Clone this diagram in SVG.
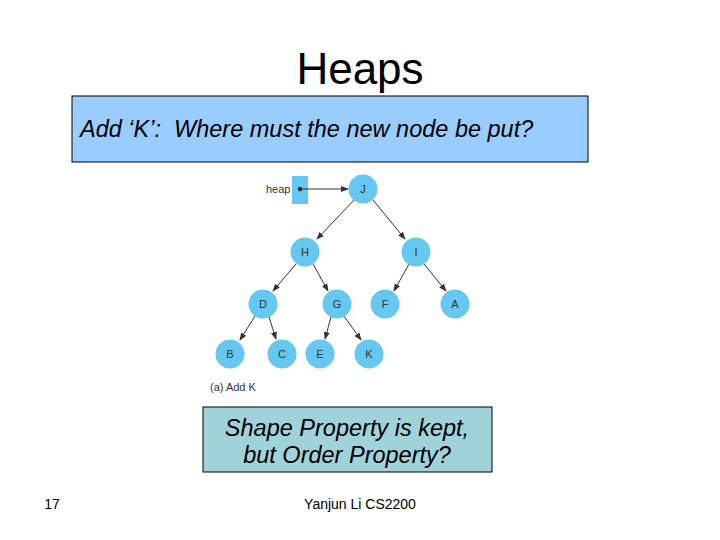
<svg xmlns="http://www.w3.org/2000/svg" width="720" height="540" viewBox="0 0 720 540">
<style>
.node circle{fill:#66c8f0;}
.node text{font-family:"Liberation Sans",Arial,sans-serif;font-size:11px;fill:#333;text-anchor:middle;}
.edge{stroke:#333;stroke-width:1;fill:none;marker-end:url(#ah);}
.box text{font-family:"Liberation Sans",Arial,sans-serif;font-size:23.5px;font-style:italic;fill:#000;white-space:pre;}
.small{font-family:"Liberation Sans",Arial,sans-serif;font-size:11px;fill:#333;}
</style>
<defs>
<marker id="ah" markerWidth="8" markerHeight="8" refX="7" refY="4" orient="auto" markerUnits="userSpaceOnUse">
<path d="M0,1 L8,4 L0,7 Z" fill="#333"/>
</marker>
</defs>
<rect width="720" height="540" fill="#fff"/>
<text x="360" y="84" font-family="Liberation Sans,Arial,sans-serif" font-size="44" text-anchor="middle">Heaps</text>
<g id="question" class="box">
<rect x="72" y="96" width="516" height="66" fill="#99ccff" stroke="#000" stroke-width="1"/>
<text x="80" y="137" xml:space="preserve">Add ‘K’:  Where must the new node be put?</text>
</g>
<g id="heapptr">
<text class="small" x="266" y="193">heap</text>
<rect x="292" y="176" width="16" height="28" fill="#66c8f0"/>
<circle cx="300" cy="189" r="2.2" fill="#222"/>
</g>
<g id="connectors">
<line class="edge" x1="300" y1="189" x2="348" y2="189"/>
<line class="edge" x1="354" y1="200" x2="317" y2="239"/>
<line class="edge" x1="373" y1="200" x2="405" y2="239"/>
<line class="edge" x1="296" y1="264" x2="273" y2="291"/>
<line class="edge" x1="313" y1="264" x2="328" y2="291"/>
<line class="edge" x1="409" y1="264" x2="394" y2="291"/>
<line class="edge" x1="424" y1="264" x2="446" y2="291"/>
<line class="edge" x1="255" y1="316" x2="240" y2="340"/>
<line class="edge" x1="269" y1="317" x2="276" y2="339"/>
<line class="edge" x1="331" y1="317" x2="325" y2="339"/>
<line class="edge" x1="344" y1="316" x2="361" y2="340"/>
</g>
<g id="J" class="node"><circle cx="363" cy="189" r="14.5"/><text x="363" y="193">J</text></g>
<g id="H" class="node"><circle cx="305" cy="252" r="14.5"/><text x="305" y="256">H</text></g>
<g id="I" class="node"><circle cx="416" cy="252" r="14.5"/><text x="416" y="256">I</text></g>
<g id="D" class="node"><circle cx="263" cy="304" r="14.5"/><text x="263" y="308">D</text></g>
<g id="G" class="node"><circle cx="337" cy="304" r="14.5"/><text x="337" y="308">G</text></g>
<g id="F" class="node"><circle cx="385" cy="304" r="14.5"/><text x="385" y="308">F</text></g>
<g id="A" class="node"><circle cx="455" cy="304" r="14.5"/><text x="455" y="308">A</text></g>
<g id="B" class="node"><circle cx="230" cy="354" r="14.5"/><text x="230" y="358">B</text></g>
<g id="C" class="node"><circle cx="282" cy="354" r="14.5"/><text x="282" y="358">C</text></g>
<g id="E" class="node"><circle cx="320" cy="354" r="14.5"/><text x="320" y="358">E</text></g>
<g id="K" class="node"><circle cx="369" cy="354" r="14.5"/><text x="369" y="358">K</text></g>
<text class="small" x="210" y="391">(a) Add K</text>
<g id="note" class="box">
<rect x="203" y="407" width="289" height="65" fill="#a0d2da" stroke="#000" stroke-width="1"/>
<text x="347" y="436" text-anchor="middle">Shape Property is kept,</text>
<text x="347" y="463" text-anchor="middle">but Order Property?</text>
</g>
<text x="52" y="509" font-family="Liberation Sans,Arial,sans-serif" font-size="14" text-anchor="middle">17</text>
<text x="360" y="509" font-family="Liberation Sans,Arial,sans-serif" font-size="14" text-anchor="middle">Yanjun Li CS2200</text>
</svg>
